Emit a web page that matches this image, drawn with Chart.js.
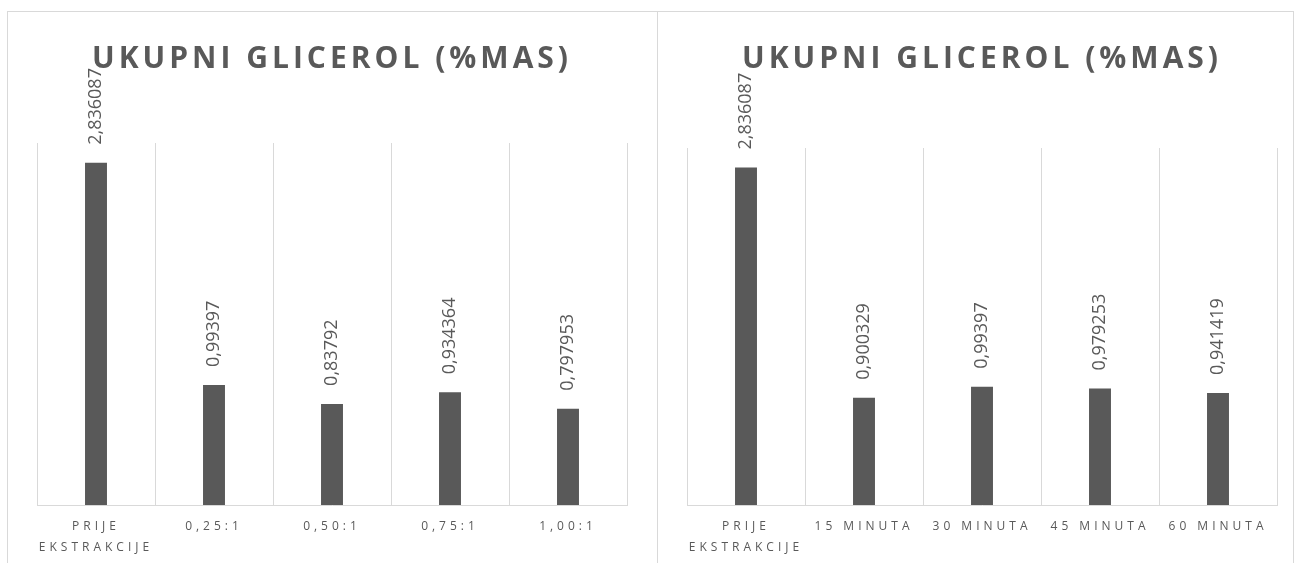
<!DOCTYPE html>
<html>
<head>
<meta charset="utf-8">
<script src="https://cdn.jsdelivr.net/npm/chart.js@4.4.0/dist/chart.umd.min.js"></script>
<style>
  body { margin: 0; background: #fff; width: 1298px; height: 563px; overflow: hidden; position: relative; }
  .box { position: absolute; top: 11px; height: 600px; border: 1px solid #d9d9d9; box-sizing: border-box; }
  canvas { position: absolute; top: 0; }
</style>
</head>
<body>
<div class="box" style="left:7px; width:651px;"></div>
<div class="box" style="left:657px; width:637px; border-left:none;"></div>
<canvas id="chartA" width="657" height="563" style="left:0"></canvas>
<canvas id="chartB" width="641" height="563" style="left:657px"></canvas>
<script>
var chartTitle = "UKUPNI GLICEROL (%MAS)";

var labelsA = [["PRIJE", "EKSTRAKCIJE"], "0,25:1", "0,50:1", "0,75:1", "1,00:1"];
var valuesA = [2.836087, 0.99397, 0.83792, 0.934364, 0.797953];

var labelsB = [["PRIJE", "EKSTRAKCIJE"], "15 MINUTA", "30 MINUTA", "45 MINUTA", "60 MINUTA"];
var valuesB = [2.836087, 0.900329, 0.99397, 0.979253, 0.941419];

var gray = "#595959";
var lineGray = "#d9d9d9";

// spaced text for title + axis labels, normal for the value labels
var spacing = {
  id: "spacing",
  beforeDraw: function(chart) { chart.ctx.letterSpacing = "4px"; },
  beforeDatasetsDraw: function(chart) { chart.ctx.letterSpacing = "0px"; }
};

var valueLabels = {
  id: "valueLabels",
  afterDatasetsDraw: function(chart) {
    var ctx = chart.ctx;
    var meta = chart.getDatasetMeta(0);
    var data = chart.data.datasets[0].data;
    meta.data.forEach(function(bar, i) {
      ctx.save();
      ctx.letterSpacing = "0px";
      ctx.translate(bar.x, bar.y - 18);
      ctx.rotate(-Math.PI / 2);
      ctx.font = "18px 'Open Sans'";
      ctx.fillStyle = gray;
      ctx.textAlign = "left";
      ctx.textBaseline = "middle";
      ctx.fillText(String(data[i]).replace(".", ","), 0, 0);
      ctx.restore();
    });
  }
};

function makeChart(id, labels, values, pad, titleBottom) {
  var ctx = document.getElementById(id);
  return new Chart(ctx, {
    type: "bar",
    data: {
      labels: labels,
      datasets: [{
        data: values,
        backgroundColor: gray,
        categoryPercentage: 1,
        barPercentage: 0.186
      }]
    },
    options: {
      responsive: false,
      animation: false,
      layout: { padding: { left: pad.left, right: pad.right, top: 0, bottom: 0 } },
      plugins: {
        legend: { display: false },
        tooltip: { enabled: false },
        title: {
          display: true,
          text: chartTitle,
          color: gray,
          font: { family: "'Open Sans'", size: 30, weight: "bold", lineHeight: 1.2 },
          padding: { top: 41, bottom: titleBottom }
        }
      },
      scales: {
        x: {
          grid: { color: lineGray, drawTicks: false, offset: true },
          border: { color: lineGray },
          ticks: {
            color: gray,
            font: { family: "'Open Sans'", size: 12, lineHeight: 1.75 },
            padding: 11,
            autoSkip: false,
            maxRotation: 0
          },
          afterFit: function(scale) { scale.height = 58; }
        },
        y: { display: false, min: 0, max: 3 }
      }
    },
    plugins: [spacing, valueLabels]
  });
}

makeChart("chartA", labelsA, valuesA, { left: 37, right: 30 }, 66);
makeChart("chartB", labelsB, valuesB, { left: 30, right: 21 }, 71);
</script>
</body>
</html>
